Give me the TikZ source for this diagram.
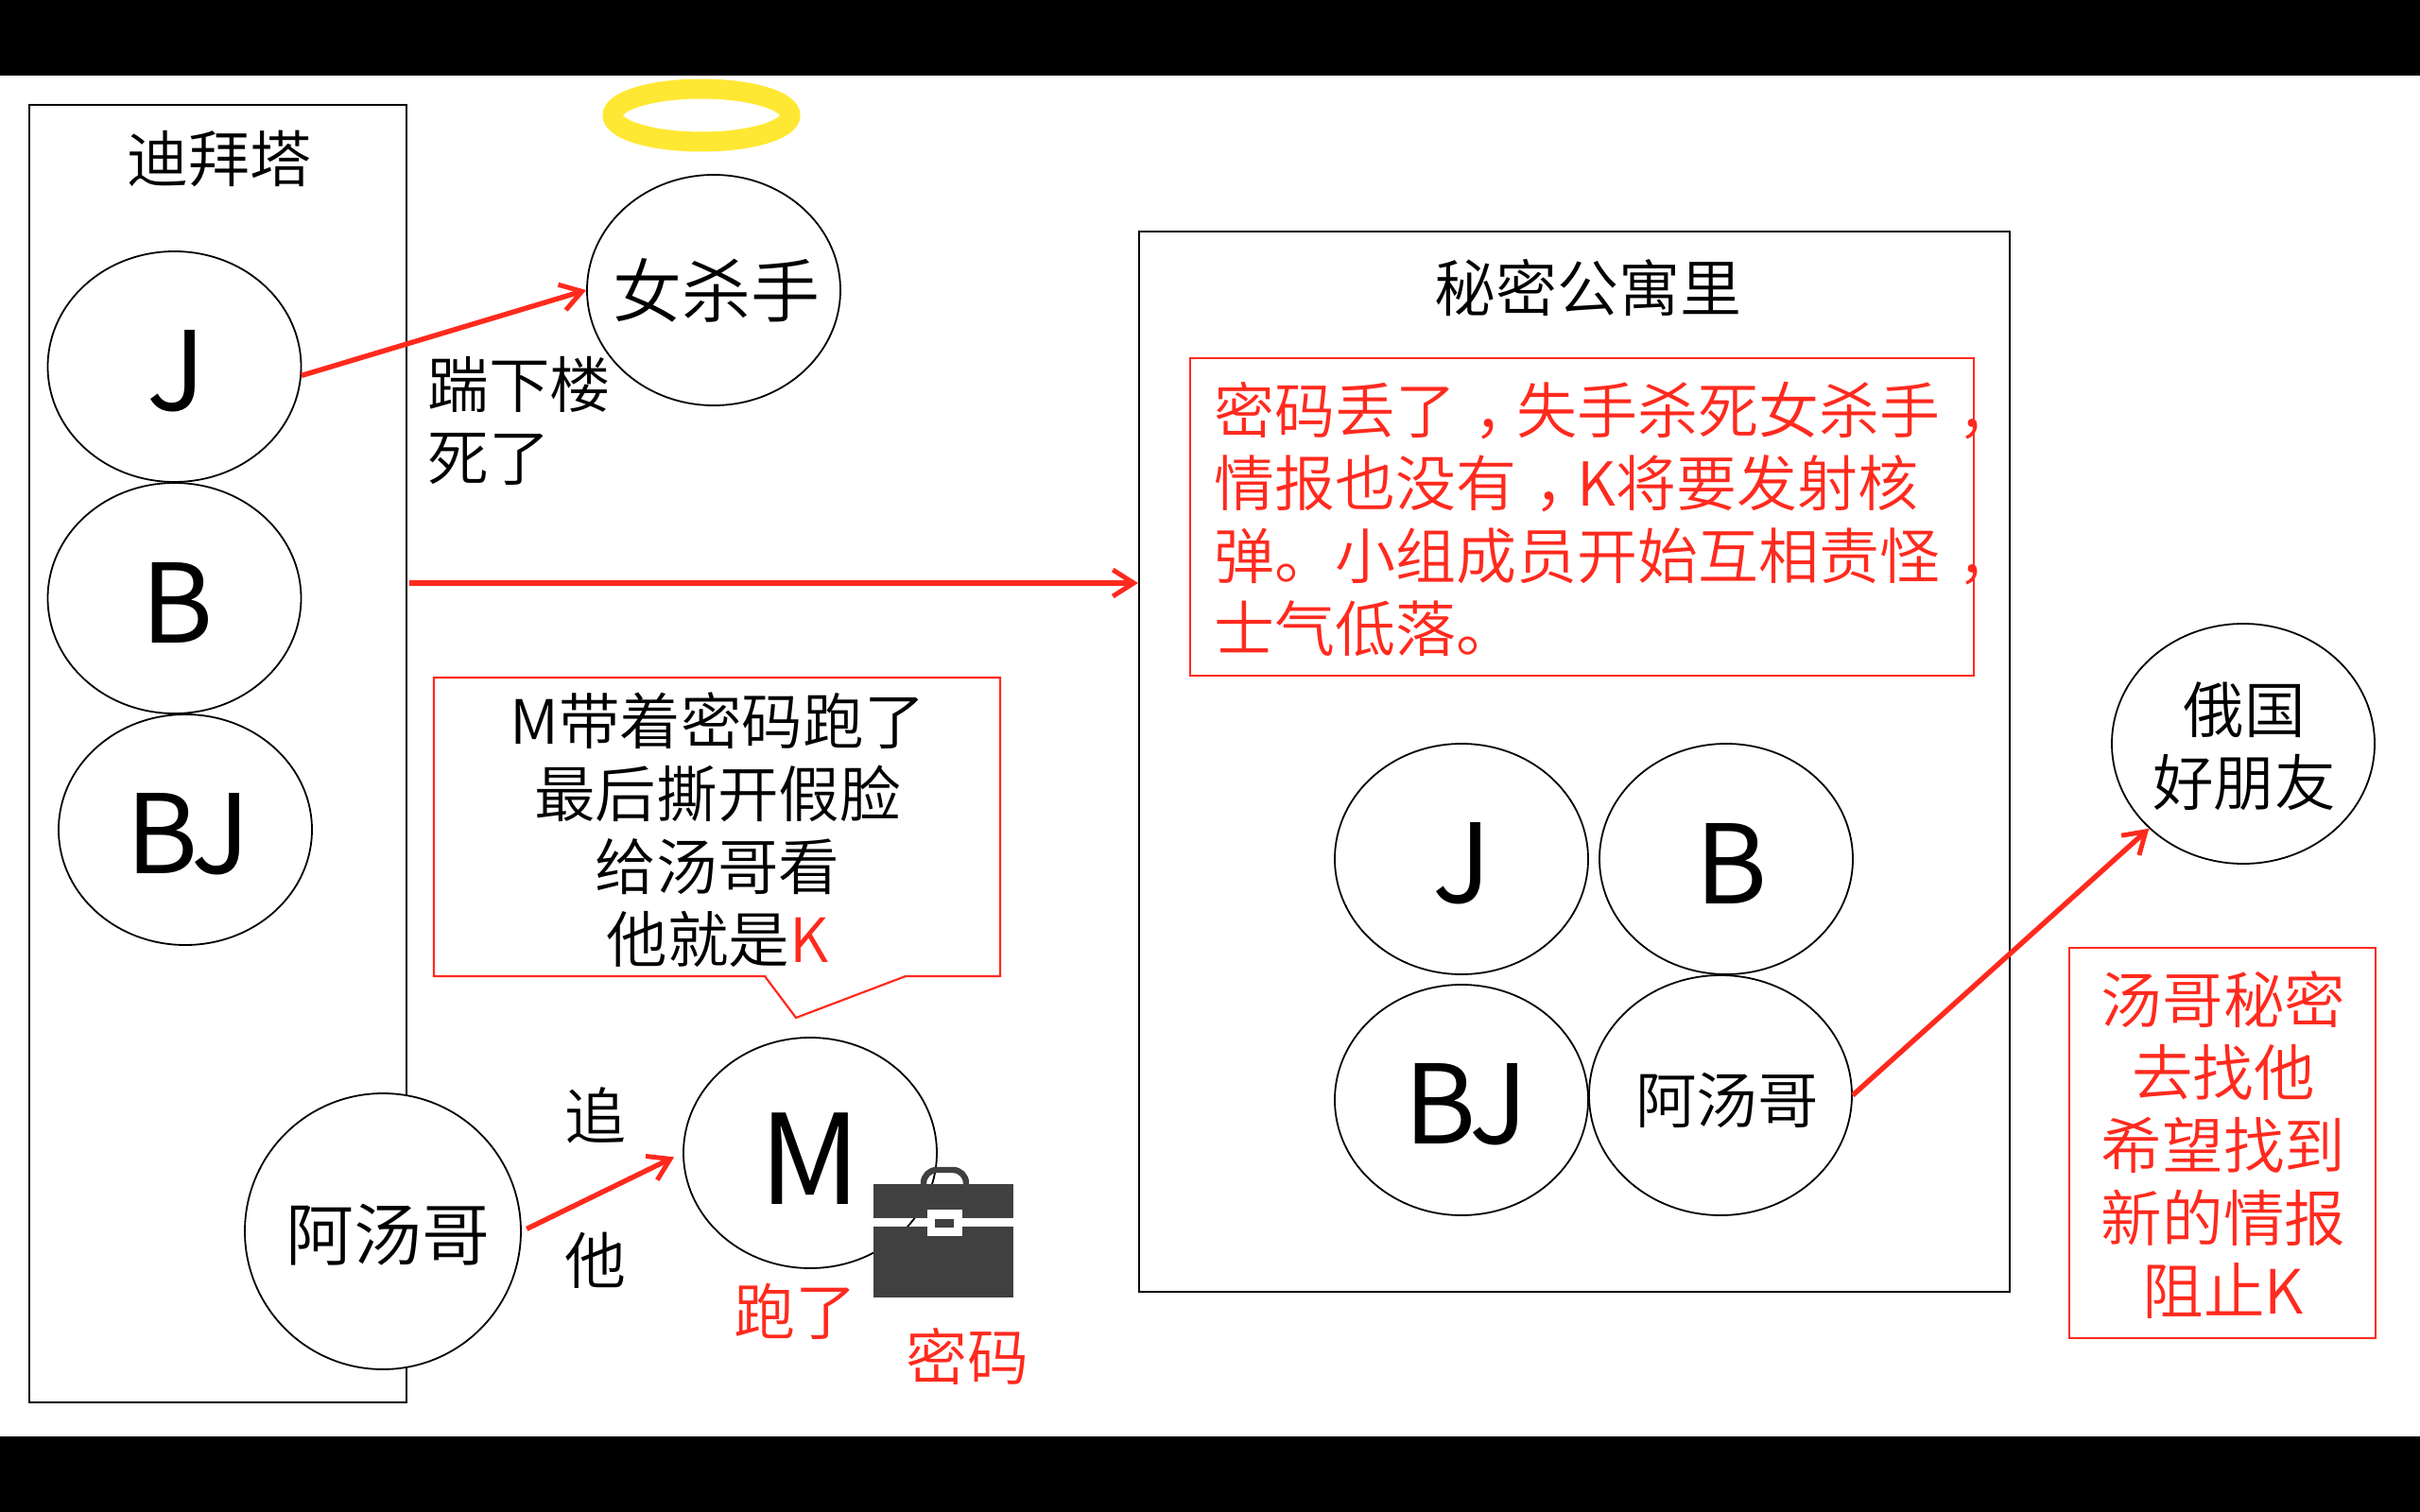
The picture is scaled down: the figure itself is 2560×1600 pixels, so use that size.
\documentclass[tikz,border=0pt]{standalone}
\usepackage{fontspec}
\setmainfont{Noto Sans CJK SC DemiLight}
\newfontfamily\regf{Noto Sans CJK SC}
\usetikzlibrary{shapes.geometric,arrows.meta,calc}
\definecolor{redc}{HTML}{FF2A1E}
\definecolor{halo}{HTML}{FFE833}
\definecolor{casec}{HTML}{404040}
\newcommand{\fs}[1]{\fontsize{#1}{#1}\selectfont}
\newcommand{\cm}{\makebox[1em][l]{\hspace{0.3em}，}}
\newcommand{\off}[3]{\raisebox{-#2}[\height][\depth]{\hspace*{#1}#3}}
\tikzset{
  x=0.5pt,y=-0.5pt,
  panel/.style={draw=black,line width=1.1pt,fill=white,inner sep=0pt},
  redbox/.style={draw=redc,line width=1.1pt,fill=white,inner sep=0pt},
  bub/.style={draw=black,line width=0.9pt,fill=white,ellipse,inner sep=-25pt,minimum width=134pt,minimum height=122pt},
  bubbig/.style={bub,minimum width=146pt,minimum height=146pt},
  bubmid/.style={bub,minimum width=139pt,minimum height=127pt},
  letter/.style={font=\fs{58}\regf},
  cn/.style={font=\fs{32.5},inner sep=0pt,text=black},
  redt/.style={cn,text=redc},
  multi/.style={align=center,font=\fontsize{32.3}{38.5}\selectfont,inner sep=0pt},
  arr/.style={draw=redc,line width=2.7pt,-{Straight Barb[length=11pt,width=14pt,line width=2.5pt]}},
}
\begin{document}
\begin{tikzpicture}
\useasboundingbox (0,0) rectangle (2560,1600);
\fill[white] (0,0) rectangle (2560,1600);
\fill[black] (0,0) rectangle (2560,80);
\fill[black] (0,1520) rectangle (2560,1600);

% left tower
\node[panel,minimum width=199.5pt,minimum height=686.5pt] (tower) at (230.5,797.5) {};
\node[cn] (towert) at (232,168) {迪拜塔};
\node[bub,letter] (J) at (184.5,388) {\off{2pt}{2.5pt}{J}};
\node[bub,letter] (B) at (184.5,633) {\off{3pt}{2.5pt}{B}};
\node[bub,letter] (BJ) at (196,878) {\off{3pt}{2.5pt}{B\kern-3.5pt J}};
\node[bubbig,font=\fs{36}] (tangL) at (405,1303) {\off{5pt}{2pt}{阿汤哥}};

% killer and halo
\node[bub,font=\fs{36.5}] (killer) at (755,307) {\off{3pt}{0pt}{女杀手}};
\node[draw=halo,line width=10.5pt,ellipse,inner sep=0pt,minimum width=94pt,minimum height=28pt] (haloN) at (742,122) {};
\node[cn,anchor=west,multi,align=left] (kick) at (452,445) {踹下楼\\死了};

% M
\node[bub,font=\fs{66}\regf] (M) at (857,1220) {\off{0pt}{3pt}{M}};
\node[cn] (chase1) at (630,1180) {追};
\node[cn] (chase2) at (630,1334) {他};
\node[redt] (ran) at (841,1388) {跑了};
\node[redt] (pw) at (1023,1435) {密码};

% briefcase
\fill[casec] (924,1253) rectangle (1072,1289);
\fill[casec] (924,1298) rectangle (1072,1373);
\fill[white] (981,1280) rectangle (1018,1308);
\fill[casec] (989,1290) rectangle (1009,1299);
\draw[casec,line width=3.2pt,rounded corners=7pt] (977,1255) -- (977,1238) -- (1022,1238) -- (1022,1255);

% callout
\coordinate (calA) at (459,717);
\coordinate (calB) at (1058,717);
\coordinate (calC) at (1058,1033);
\coordinate (calD) at (958,1033);
\coordinate (calTip) at (842,1077);
\coordinate (calE) at (809,1033);
\coordinate (calF) at (459,1033);
\draw[draw=redc,line width=1.1pt,fill=white] (calA) -- (calB) -- (calC) -- (calD) -- (calTip) -- (calE) -- (calF) -- cycle;
\node[multi] (calT) at (759,878) {M带着密码跑了\\最后撕开假脸\\给汤哥看\\他就是\textcolor{redc}{K}};

% secret room
\node[panel,minimum width=460.5pt,minimum height=561pt] (room) at (1665.5,806) {};
\node[cn] (roomt) at (1680,305) {秘密公寓里};
\node[redbox,minimum width=414.5pt,minimum height=168pt] (msg) at (1673.5,547) {};
\node[anchor=west,multi,align=left,text=redc,font=\fontsize{32}{38.5}\selectfont] (msgt) at (1284,549) {密码丢了\cm 失手杀死女杀手\cm\\情报也没有\cm K将要发射核\\弹。小组成员开始互相责怪\cm\\士气低落。};
\node[bub,letter] (J2) at (1546,909) {\off{1pt}{2.5pt}{J}};
\node[bub,letter] (B2) at (1826,909) {\off{6pt}{2.5pt}{B}};
\node[bub,letter] (BJ2) at (1546,1164) {\off{5pt}{2.5pt}{B\kern-3.5pt J}};
\node[bubmid,font=\fs{32.3}] (tangR) at (1820,1159) {\off{7pt}{2.5pt}{阿汤哥}};

% friend
\node[bubmid,label={[multi,yshift=-1.6pt,xshift=0.5pt]center:俄国\\好朋友}] (friend) at (2373,787) {};
\node[redbox,minimum width=162pt,minimum height=206.5pt,label={[multi,text=redc,yshift=-0.8pt,xshift=0.5pt]center:汤哥秘密\\去找他\\希望找到\\新的情报\\阻止K}] (note) at (2351,1209.5) {};

% connectors
\coordinate (bigS) at ($(tower.east)+(2,-180.5)$);
\coordinate (bigE) at (room.west |- bigS);
\draw[arr] (J.-4) -- (killer.west);
\draw[arr] (bigS) -- (bigE);
\draw[arr,shorten <=3pt,shorten >=5pt] (tangL.east) -- (M.west);
\draw[arr] (tangR.east) -- (friend.222);
\end{tikzpicture}
\end{document}
